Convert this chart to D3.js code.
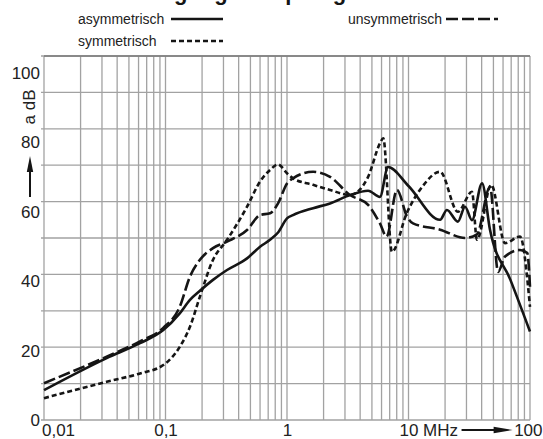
<!DOCTYPE html>
<html>
<head>
<meta charset="utf-8">
<script src="https://cdn.jsdelivr.net/npm/d3@7"></script>
<style>
  body { margin: 0; background: #fff; }
  svg { display: block; }
  svg text { font-family: "Liberation Sans", Arial, Helvetica, sans-serif; }
</style>
</head>
<body>
<svg id="chart" width="543" height="439"></svg>
<script>
// frequency in MHz, attenuation in dB
const freqTicks = [0.01, 0.1, 1, 10, 100];
const freqLabels = ["0,01", "0,1", "1", "10 MHz", "100"];
const dbTicks = [0, 20, 40, 60, 80, 100];

const asymmetrisch = [
  [0.01, 8.2], [0.0328, 17], [0.0617, 21.1], [0.0959, 24.7], [0.131, 29.3],
  [0.159, 33], [0.192, 35.5], [0.246, 38.5], [0.321, 41.2], [0.469, 44.4],
  [0.6, 47.6], [0.725, 49.5], [0.844, 51.5], [1.0, 55.4], [1.12, 56.3],
  [1.64, 58.2], [2.26, 59.5], [3.3, 61.8], [4.65, 63], [5.82, 61.3],
  [6.78, 69.5], [10, 64.3], [18.2, 55], [20.7, 57.7], [25.5, 54.5],
  [29.2, 58.6], [33.3, 54.9], [40.3, 65], [46.9, 52.2], [69, 38.5], [100, 24.3]
];

const symmetrisch = [
  [0.01, 6.0], [0.0328, 10.5], [0.0617, 12.8], [0.0959, 15.1], [0.131, 20.1],
  [0.159, 25.6], [0.192, 33.9], [0.246, 44], [0.321, 49.5], [0.469, 58.6],
  [0.6, 65.5], [0.725, 68.7], [0.844, 70.2], [1.0, 67.8], [1.12, 66.4],
  [1.64, 64.6], [2.26, 63.2], [3.3, 61.8], [4.65, 66.8], [5.82, 76],
  [6.2, 77.4], [7.3, 46.2], [9.72, 57], [13, 64.1], [18.2, 68.2],
  [25.5, 57.2], [33.3, 62.7], [36.6, 49.5], [48, 64.6], [62.3, 48.6],
  [82.7, 50.4], [100, 31.1]
];

const unsymmetrisch = [
  [0.01, 10.1], [0.0328, 17.4], [0.0617, 21.6], [0.0959, 25.3], [0.131, 31.1],
  [0.159, 39.4], [0.192, 44], [0.246, 47.2], [0.321, 49], [0.469, 52.2],
  [0.6, 56.3], [0.725, 56.8], [0.844, 59.5], [1.0, 65], [1.12, 66.4],
  [1.64, 68.2], [2.26, 66.8], [3.3, 61.8], [4.65, 59.1], [5.82, 54],
  [6.6, 50.4], [8.04, 63.2], [9.72, 55.9], [10.9, 54], [18.2, 52.3],
  [29.2, 50], [36.6, 51], [46.9, 64.1], [54.6, 40.7], [62.3, 44.9],
  [82.7, 46.7], [95, 45.9], [100, 36.6]
];

const svg = d3.select("#chart");
const plot = { left: 44, right: 530, top: 56, bottom: 420 };
const ink = "#151515";
const font = '"Liberation Sans", Arial, Helvetica, sans-serif';

const x = d3.scaleLog().domain([0.01, 100]).range([plot.left, plot.right]);
const y = d3.scaleLinear().domain([0, 100]).range([plot.bottom, plot.top]);
// the printed dB numbers sit a bit lower than the grid lines
const yText = d3.scaleLinear().domain([0, 100]).range([plot.bottom, 73]);

// grid
const grid = svg.append("g").attr("stroke", "#a2a2a2").attr("stroke-width", 1.3);
grid.selectAll(".vx")
  .data(x.ticks())
  .join("line")
  .attr("x1", (d) => x(d)).attr("x2", (d) => x(d))
  .attr("y1", plot.top).attr("y2", plot.bottom);
grid.selectAll(".hy")
  .data(y.ticks(10))
  .join("line")
  .attr("x1", plot.left - 3).attr("x2", plot.right)
  .attr("y1", (d) => y(d)).attr("y2", (d) => y(d));
svg.append("line")
  .attr("x1", plot.left).attr("x2", plot.right).attr("y1", plot.top).attr("y2", plot.top)
  .attr("stroke", "#7a7a7a").attr("stroke-width", 1.4);

// y labels
const yAxis = svg.append("g")
  .attr("transform", `translate(${plot.left},0)`)
  .call(d3.axisLeft(yText).tickValues(dbTicks).tickSize(0).tickPadding(4))
  .attr("font-family", font).attr("font-size", 17);
yAxis.select(".domain").remove();
yAxis.selectAll("text").attr("fill", "#222");

svg.append("text")
  .attr("transform", "translate(35,107) rotate(-90)")
  .attr("text-anchor", "middle")
  .attr("font-size", 17).attr("fill", "#222")
  .text("a dB");
svg.append("line")
  .attr("x1", 30).attr("x2", 30).attr("y1", 197).attr("y2", 168)
  .attr("stroke", ink).attr("stroke-width", 2);
svg.append("path")
  .attr("d", "M30,156 L33.2,172 L26.8,172 Z")
  .attr("fill", ink);

// x labels
const xAxis = svg.append("g")
  .attr("transform", `translate(0,${plot.bottom})`)
  .call(d3.axisBottom(x).tickValues(freqTicks)
    .tickFormat((d, i) => freqLabels[i]).tickSize(0).tickPadding(4))
  .attr("font-family", font).attr("font-size", 17);
xAxis.select(".domain").remove();
xAxis.selectAll("text").attr("fill", "#222");
xAxis.selectAll(".tick").filter((d) => d === 0.01)
  .select("text").attr("text-anchor", "start").attr("dx", "-0.15em");
const mhz = xAxis.selectAll(".tick").filter((d) => d === 10)
  .select("text").attr("text-anchor", "start").attr("dx", "-0.56em");
// last label is pushed against the right edge of the picture
const last = xAxis.selectAll(".tick").filter((d) => d === 100)
  .select("text").attr("text-anchor", "end").attr("dx", 542 - x(100));

const arrowY = 430;
const arrowStart = x(10) - 0.56 * 17 + mhz.node().getComputedTextLength() + 4;
const arrowTip = 542 - last.node().getComputedTextLength() - 1;
svg.append("line")
  .attr("x1", arrowStart).attr("x2", arrowTip - 14)
  .attr("y1", arrowY).attr("y2", arrowY)
  .attr("stroke", ink).attr("stroke-width", 1.8);
svg.append("path")
  .attr("d", `M${arrowTip},${arrowY} L${arrowTip - 19},${arrowY - 3.2} L${arrowTip - 19},${arrowY + 3.2} Z`)
  .attr("fill", ink);

// curves
const line = d3.line()
  .x((d) => x(d[0]))
  .y((d) => y(d[1]))
  .curve(d3.curveMonotoneX);

const series = [
  { name: "asymmetrisch", data: asymmetrisch, dash: null },
  { name: "unsymmetrisch", data: unsymmetrisch, dash: "12,4" },
  { name: "symmetrisch", data: symmetrisch, dash: "5,3" }
];

svg.append("g")
  .selectAll("path")
  .data(series)
  .join("path")
  .attr("d", (d) => line(d.data))
  .attr("fill", "none")
  .attr("stroke", ink)
  .attr("stroke-width", 2.6)
  .attr("stroke-linejoin", "round")
  .attr("stroke-dasharray", (d) => d.dash);

// legend
const legendPos = {
  asymmetrisch: { tx: 78, lx: 171, y: 19 },
  symmetrisch: { tx: 78, lx: 171, y: 41 },
  unsymmetrisch: { tx: 348, lx: 446, y: 19 }
};
const legend = svg.append("g")
  .selectAll("g")
  .data(series)
  .join("g")
  .attr("transform", (d) => `translate(0,${legendPos[d.name].y})`);
legend.append("text")
  .attr("x", (d) => legendPos[d.name].tx)
  .attr("y", 5)
  .attr("font-size", 14).attr("fill", "#222")
  .text((d) => d.name);
legend.append("line")
  .attr("x1", (d) => legendPos[d.name].lx)
  .attr("x2", (d) => legendPos[d.name].lx + 52)
  .attr("stroke", ink).attr("stroke-width", 2.6)
  .attr("stroke-dasharray", (d) => d.dash);

// title, cut off at the top edge of the picture
svg.append("text")
  .attr("x", 119).attr("y", 0)
  .attr("font-size", 22).attr("font-weight", "bold").attr("fill", ink)
  .text("Einfügungsdämpfung");
</script>
</body>
</html>
